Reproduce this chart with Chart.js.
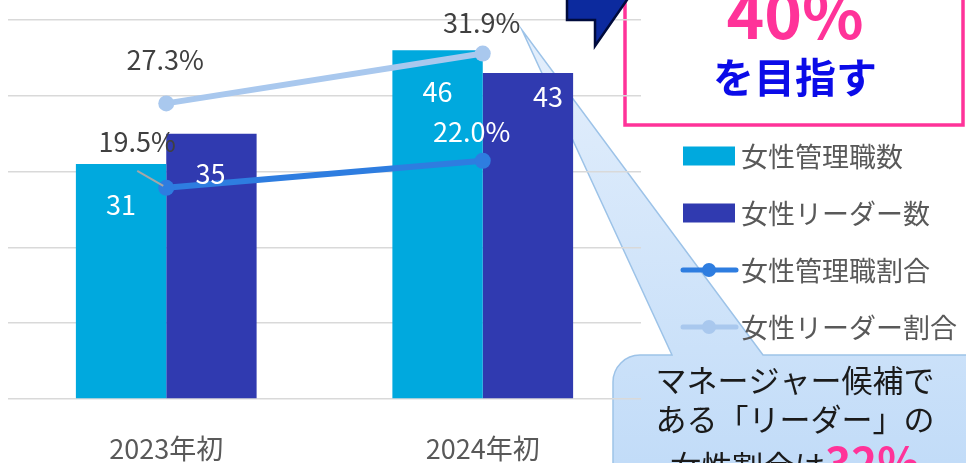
<!DOCTYPE html>
<html lang="ja">
<head>
<meta charset="utf-8">
<script src="https://cdn.jsdelivr.net/npm/chart.js@4.4.1/dist/chart.umd.min.js"></script>
<style>
  html, body { margin: 0; padding: 0; background: #fff; }
  #wrap { width: 966px; height: 463px; position: relative; overflow: hidden; }
</style>
</head>
<body>
<div id="wrap"><canvas id="chart"></canvas></div>
<script>
// データ
const categories = ['2023年初', '2024年初'];
const managerCounts = [31, 46];
const leaderCounts = [35, 43];
const managerRatios = [19.5, 22.0];
const leaderRatios = [27.3, 31.9];
const seriesNames = ['女性管理職数', '女性リーダー数', '女性管理職割合', '女性リーダー割合'];

const FONT = "'Noto Sans CJK JP', 'Noto Sans', sans-serif";
Chart.defaults.font.family = FONT;

// 吹き出し・枠（グリッドより後ろ）
function drawBackShapes(chart) {
  const ctx = chart.ctx;
  ctx.save();
  const grad = ctx.createLinearGradient(0, 30, 0, 463);
  grad.addColorStop(0, '#E4EFFC');
  grad.addColorStop(1, '#C2DCF8');
  ctx.beginPath();
  ctx.moveTo(613, 385);
  ctx.arcTo(613, 355, 640, 355, 27);
  ctx.lineTo(672, 355);
  ctx.lineTo(522, 30);
  ctx.lineTo(763, 355);
  ctx.lineTo(1000, 355);
  ctx.lineTo(1000, 520);
  ctx.lineTo(613, 520);
  ctx.closePath();
  ctx.fillStyle = grad;
  ctx.fill();
  ctx.lineWidth = 1.5;
  ctx.strokeStyle = '#9DC3E8';
  ctx.stroke();

  ctx.lineWidth = 3.5;
  ctx.strokeStyle = '#FF3399';
  ctx.strokeRect(625, -10, 338, 135);
  ctx.restore();
}

// データラベル
function drawValueLabels(chart) {
  const ctx = chart.ctx;
  const opts = chart.options.plugins.valueLabels;
  ctx.save();
  ctx.textAlign = 'center';
  ctx.textBaseline = 'middle';
  ctx.font = '27px ' + FONT;
  chart.data.datasets.forEach((ds, i) => {
    const meta = chart.getDatasetMeta(i);
    const cfg = opts.series[i];
    meta.data.forEach((el, j) => {
      const off = cfg.offsets[j];
      const x = el.x + off[0];
      const y = el.y + off[1];
      if (cfg.leader && cfg.leader[j]) {
        ctx.strokeStyle = '#A6A6A6';
        ctx.lineWidth = 2;
        ctx.beginPath();
        ctx.moveTo(x, y + 29);
        ctx.lineTo(el.x - 3, el.y - 2);
        ctx.stroke();
      }
      ctx.fillStyle = cfg.colors[j];
      const v = ds.data[j];
      ctx.fillText(ds.type === 'line' ? v.toFixed(1) + '%' : String(v), x, y);
    });
  });
  ctx.restore();
}

// 凡例と前面の図形
function drawFront(chart) {
  const ctx = chart.ctx;
  ctx.save();
  // 凡例
  ctx.font = '27px ' + FONT;
  ctx.textAlign = 'left';
  ctx.textBaseline = 'middle';
  chart.data.datasets.forEach((ds, i) => {
    const y = 156 + i * 57;
    if (ds.type === 'line') {
      ctx.strokeStyle = ds.borderColor;
      ctx.lineWidth = 5;
      ctx.lineCap = 'round';
      ctx.beginPath();
      ctx.moveTo(683, y);
      ctx.lineTo(736, y);
      ctx.stroke();
      ctx.fillStyle = ds.borderColor;
      ctx.beginPath();
      ctx.arc(709, y, 7, 0, Math.PI * 2);
      ctx.fill();
    } else {
      ctx.fillStyle = ds.backgroundColor;
      ctx.fillRect(683, y - 9.5, 52, 19);
    }
    ctx.fillStyle = '#595959';
    ctx.fillText(ds.label, 741, y + 1);
  });

  // 目標ボックスの文字
  ctx.textAlign = 'center';
  ctx.textBaseline = 'alphabetic';
  ctx.fillStyle = '#FF3399';
  ctx.font = 'bold 64px ' + FONT;
  ctx.fillText('40%', 795, 39);
  ctx.fillStyle = '#0B0BE8';
  ctx.font = 'bold 41px ' + FONT;
  ctx.fillText('を目指す', 795, 93);

  // 矢印
  ctx.beginPath();
  ctx.moveTo(567, -3);
  ctx.lineTo(567, 20);
  ctx.lineTo(595, 20);
  ctx.lineTo(595, 46);
  ctx.lineTo(629, -3);
  ctx.closePath();
  ctx.fillStyle = '#0C2A9E';
  ctx.fill();
  ctx.lineWidth = 2.5;
  ctx.strokeStyle = '#000B3C';
  ctx.stroke();

  // 吹き出しの文字
  ctx.fillStyle = '#1A1A1A';
  ctx.font = '31px ' + FONT;
  ctx.fillText('マネージャー候補で', 795, 392);
  ctx.fillText('ある「リーダー」の', 795, 431);
  const a = '女性割合は', b = '32%';
  const wa = ctx.measureText(a).width;
  ctx.font = 'bold 44px ' + FONT;
  const wb = ctx.measureText(b).width;
  const x0 = 795 - (wa + wb) / 2;
  ctx.textAlign = 'left';
  ctx.fillStyle = '#FF3399';
  ctx.fillText(b, x0 + wa, 480);
  ctx.font = '31px ' + FONT;
  ctx.fillStyle = '#1A1A1A';
  ctx.fillText(a, x0, 478);
  ctx.restore();
}

const decorPlugin = {
  id: 'decor',
  beforeDraw: drawBackShapes,
  afterDatasetsDraw: drawValueLabels,
  afterDraw: drawFront
};

new Chart(document.getElementById('chart'), {
  data: {
    labels: categories,
    datasets: [
      {
        type: 'bar',
        label: seriesNames[0],
        data: managerCounts,
        backgroundColor: '#00A9DE',
        yAxisID: 'y',
        order: 2
      },
      {
        type: 'bar',
        label: seriesNames[1],
        data: leaderCounts,
        backgroundColor: '#303AB0',
        yAxisID: 'y',
        order: 2
      },
      {
        type: 'line',
        label: seriesNames[2],
        data: managerRatios,
        borderColor: '#2E7DE0',
        backgroundColor: '#2E7DE0',
        borderWidth: 6,
        pointRadius: 8,
        pointBorderWidth: 0,
        yAxisID: 'y1',
        order: 0
      },
      {
        type: 'line',
        label: seriesNames[3],
        data: leaderRatios,
        borderColor: '#A9C8EE',
        backgroundColor: '#A9C8EE',
        borderWidth: 6,
        pointRadius: 8,
        pointBorderWidth: 0,
        yAxisID: 'y1',
        order: 1
      }
    ]
  },
  options: {
    responsive: true,
    maintainAspectRatio: false,
    animation: false,
    layout: { padding: { left: 7, right: 325, top: 20, bottom: 0 } },
    datasets: {
      bar: { categoryPercentage: 0.571, barPercentage: 1.0 }
    },
    scales: {
      x: {
        grid: { display: false },
        border: { display: false },
        ticks: { color: '#595959', font: { size: 27 }, padding: 26 },
        afterFit: (scale) => { scale.height = 64; }
      },
      y: {
        min: 0,
        max: 50,
        ticks: { display: false, stepSize: 10 },
        grid: { color: '#D9D9D9', lineWidth: 1.5, drawTicks: false },
        border: { display: false }
      },
      y1: {
        display: false,
        min: 0,
        max: 35
      }
    },
    plugins: {
      legend: { display: false },
      tooltip: { enabled: false },
      valueLabels: {
        series: [
          { offsets: [[0, 41], [0, 41]], colors: ['#FFFFFF', '#FFFFFF'] },
          { offsets: [[-1, 40], [20, 24]], colors: ['#FFFFFF', '#FFFFFF'] },
          { offsets: [[-29, -46], [-11, -29]], colors: ['#404040', '#FFFFFF'], leader: [true, false] },
          { offsets: [[-1, -44], [-1, -31]], colors: ['#404040', '#404040'] }
        ]
      }
    }
  },
  plugins: [decorPlugin]
});
</script>
</body>
</html>
